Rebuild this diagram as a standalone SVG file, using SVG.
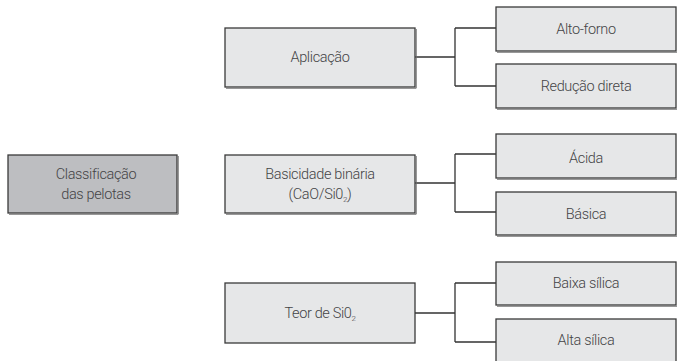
<svg xmlns="http://www.w3.org/2000/svg" width="677" height="361" viewBox="0 0 677 361">
  <style>
    .box { fill: #e6e7e8; stroke: #3a3a3a; stroke-width: 1.3; }
    .root { fill: #bdbec1; stroke: #3a3a3a; stroke-width: 1.3; }
    .edge { fill: none; stroke: #6a6a6a; stroke-width: 1; }
    .lbl { font-family: Roboto, "Liberation Sans", sans-serif; font-weight: 300; font-size: 14.5px; letter-spacing: -0.35px; fill: #444446; text-anchor: middle; }
    .sub { font-size: 8px; }
    .wire { fill: none; stroke: #333; stroke-width: 1.3; }
  </style>
  <rect width="677" height="361" fill="#ffffff"/>

  <g id="connectors">
    <path class="wire" d="M415 57 H455 M455 28 V86 M455 28 H496 M455 86 H496"/>
    <path class="wire" d="M415 183 H455 M455 154 V212 M455 154 H496 M455 212 H496"/>
    <path class="wire" d="M415 313 H455 M455 283 V342 M455 283 H496 M455 342 H496"/>
  </g>

  <g id="classificacao">
    <rect class="root" x="8" y="155" width="169" height="58"/>
    <path class="edge" d="M9 214.2 H178.2 V156"/>
    <text class="lbl" x="96" y="179">Classificação</text>
    <text class="lbl" x="96" y="199">das pelotas</text>
  </g>

  <g id="aplicacao">
    <rect class="box" x="225" y="28" width="190" height="59"/>
    <path class="edge" d="M226 88.2 H416.2 V29"/>
    <text class="lbl" x="320" y="62">Aplicação</text>
  </g>

  <g id="basicidade">
    <rect class="box" x="225" y="155" width="190" height="58"/>
    <path class="edge" d="M226 214.2 H416.2 V156"/>
    <text class="lbl" x="320" y="179">Basicidade binária</text>
    <text class="lbl" x="320" y="199">(CaO/Si0<tspan class="sub" dy="3">2</tspan><tspan dy="-3">)</tspan></text>
  </g>

  <g id="teor">
    <rect class="box" x="225" y="283" width="190" height="60"/>
    <text class="lbl" x="320" y="318">Teor de Si0<tspan class="sub" dy="3">2</tspan></text>
  </g>

  <g id="alto-forno">
    <rect class="box" x="496" y="7" width="180" height="44"/>
    <path class="edge" d="M497 52.2 H677"/>
    <text class="lbl" x="586" y="34">Alto-forno</text>
  </g>

  <g id="reducao-direta">
    <rect class="box" x="496" y="64" width="180" height="44"/>
    <path class="edge" d="M497 109.2 H677"/>
    <text class="lbl" x="586" y="91">Redução direta</text>
  </g>

  <g id="acida">
    <rect class="box" x="496" y="134" width="180" height="44"/>
    <path class="edge" d="M497 179.2 H677"/>
    <text class="lbl" x="586" y="163">Ácida</text>
  </g>

  <g id="basica">
    <rect class="box" x="496" y="192" width="180" height="43"/>
    <path class="edge" d="M497 236.2 H677"/>
    <text class="lbl" x="586" y="219">Básica</text>
  </g>

  <g id="baixa-silica">
    <rect class="box" x="496" y="262" width="180" height="43"/>
    <path class="edge" d="M497 306.2 H677"/>
    <text class="lbl" x="586" y="288">Baixa sílica</text>
  </g>

  <g id="alta-silica">
    <rect class="box" x="496" y="319" width="180" height="50"/>
    <text class="lbl" x="586" y="345">Alta sílica</text>
  </g>
</svg>
